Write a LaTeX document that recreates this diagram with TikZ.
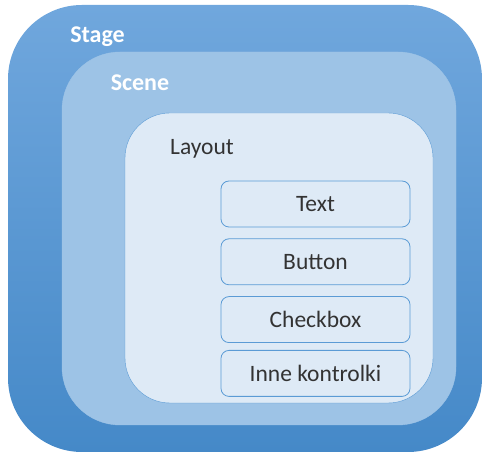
\documentclass[tikz,border=0pt]{standalone}
\usepackage{fontspec}
\setmainfont{Carlito}
\usepackage{xcolor}
\usetikzlibrary{positioning}

\definecolor{stagetop}{HTML}{70A7DD}
\definecolor{stagebot}{HTML}{4589C8}
\definecolor{scenefill}{HTML}{9DC3E6}
\definecolor{layoutfill}{HTML}{DEEAF6}
\definecolor{edgeblue}{HTML}{5B9BD5}
\definecolor{txtgray}{HTML}{333333}

\tikzset{
  ctrl/.style={draw=edgeblue, line width=0.8pt, fill=layoutfill, rounded corners=8pt,
    minimum width=189pt, minimum height=46pt, inner sep=0pt,
    font=\fontsize{23.5}{26}\selectfont, text=txtgray},
  title/.style={font=\fontsize{24}{27}\selectfont\bfseries, text=white, inner sep=0pt}
}

\begin{document}
\begin{tikzpicture}[x=1pt, y=1pt]
            \useasboundingbox (0,0) rectangle (488,460);
            \node [top color=stagetop, bottom color=stagebot, rounded corners=74pt,
                   minimum width=474pt, minimum height=447pt, inner sep=0pt] (stage) at (245,231.5) {};
            \node [draw=edgeblue!60, fill=scenefill, rounded corners=58pt,
                   minimum width=394pt, minimum height=373pt, inner sep=0pt] (scene) at (259,221.5) {};
            \node [draw=edgeblue, fill=layoutfill, rounded corners=45pt,
                   minimum width=308pt, minimum height=290pt, inner sep=0pt] (layout) at (279,202) {};
            \node [title] (stagelbl) at (97.5,423) {Stage};
            \node [title] (scenelbl) at (140,377) {Scene};
            \node [font=\fontsize{23.5}{26}\selectfont, text=txtgray, inner sep=0pt] (layoutlbl) at (202,311) {Layout};
            \node [ctrl] (text) at (315.5,256) {Text};
            \node [ctrl, below = 11pt of text] (button) {Button};
            \node [ctrl, below = 11pt of button] (checkbox) {Checkbox};
            \node [ctrl, below = 7pt of checkbox] (other) {Inne kontrolki};
\end{tikzpicture}
\end{document}
